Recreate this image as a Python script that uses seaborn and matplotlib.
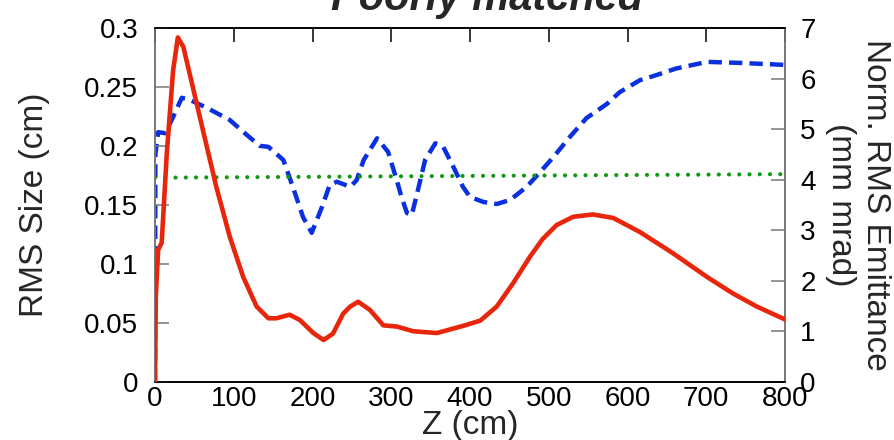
import matplotlib
matplotlib.use("Agg")
import matplotlib.pyplot as plt
import seaborn as sns
import pandas as pd

# --- data -------------------------------------------------------------
z_size = [0, 1, 4, 8.5, 15, 23, 29, 36, 48, 61, 78, 95, 112, 129, 144, 154,
          171, 184, 201, 214, 226, 239, 248, 258, 273, 290, 307, 328, 358,
          391, 413, 434, 455, 476, 492, 510, 531, 556, 582, 616, 658, 701,
          734, 764, 800]
rms_size = [0.0, 0.072, 0.112, 0.118, 0.194, 0.264, 0.292, 0.284, 0.25,
            0.213, 0.165, 0.123, 0.089, 0.064, 0.054, 0.054, 0.057, 0.0525,
            0.0415, 0.0356, 0.041, 0.058, 0.064, 0.068, 0.061, 0.048, 0.047,
            0.043, 0.0415, 0.0475, 0.052, 0.064, 0.084, 0.106, 0.121, 0.133,
            0.140, 0.142, 0.139, 0.127, 0.109, 0.089, 0.075, 0.064, 0.053]

z_emit = [0, 0.5, 4, 13, 23, 34, 44, 66, 95, 117, 133, 144, 163, 175, 188,
          199, 212, 222, 231, 248, 256, 265, 282, 296, 307, 313, 320, 326,
          333, 343, 356, 366, 379, 391, 400, 417, 434, 451, 472, 489, 506,
          527, 548, 574, 590, 616, 633, 662, 701, 743, 800]
emittance = [0.0, 4.5, 4.94, 4.92, 5.24, 5.62, 5.58, 5.42, 5.18, 4.88, 4.67,
             4.65, 4.39, 3.86, 3.26, 2.95, 3.46, 3.90, 3.96, 3.86, 3.99, 4.39,
             4.82, 4.55, 3.99, 3.66, 3.34, 3.30, 3.74, 4.39, 4.72, 4.65, 4.25,
             3.86, 3.66, 3.56, 3.52, 3.60, 3.86, 4.15, 4.45, 4.85, 5.22, 5.50,
             5.73, 5.97, 6.05, 6.20, 6.33, 6.31, 6.27]

z_ref = [0, 800]
emit_ref = [4.04, 4.11]

x_ticks = [0, 100, 200, 300, 400, 500, 600, 700, 800]
y_ticks = [0, 0.05, 0.1, 0.15, 0.2, 0.25, 0.3]
y_tick_labels = ["0", "0.05", "0.1", "0.15", "0.2", "0.25", "0.3"]
y2_ticks = [0, 1, 2, 3, 4, 5, 6, 7]

# --- style --------------------------------------------------------------
sns.set_style("white")
plt.rcParams['font.family'] = ['Liberation Sans', 'DejaVu Sans']

RED = "#e8260c"
BLUE = "#0a30e0"
GREEN = "#109a10"

fig = plt.figure(figsize=(8.95, 4.4), dpi=100)
ax = fig.add_axes([155 / 895, 1 - 382 / 440, 630 / 895, 354 / 440])
ax2 = ax.twinx()

df_size = pd.DataFrame({"z": z_size, "size": rms_size})
df_emit = pd.DataFrame({"z": z_emit, "emit": emittance})
df_ref = pd.DataFrame({"z": z_ref, "emit": emit_ref})

sns.lineplot(data=df_emit, x="z", y="emit", ax=ax2, sort=False, estimator=None,
             color=BLUE, lw=3.2, zorder=2)
ax2.lines[-1].set_dashes((3.0, 1.6))
sns.lineplot(data=df_ref, x="z", y="emit", ax=ax2, sort=False, estimator=None,
             color=GREEN, lw=3.0, zorder=2)
ax2.lines[-1].set_dashes((0.01, 2.45))
ax2.lines[-1].set_dash_capstyle("round")
sns.lineplot(data=df_size, x="z", y="size", ax=ax, sort=False, estimator=None,
             color=RED, lw=3.3, zorder=3)
ax.lines[-1].set_solid_joinstyle("round")

ax.set_zorder(ax2.get_zorder() + 1)
ax.patch.set_visible(False)

ax.set_xlim(0, 800)
ax.set_ylim(0, 0.3)
ax2.set_ylim(0, 7)
ax.set_xticks(x_ticks)
ax.set_xticklabels([str(t) for t in x_ticks])
ax.set_yticks(y_ticks)
ax.set_yticklabels(y_tick_labels)
ax2.set_yticks(y2_ticks)
ax2.set_yticklabels([str(t) for t in y2_ticks])

FS = 20
ax.tick_params(axis="both", direction="in", length=10, width=1.1,
               labelsize=FS, colors="black", top=True)
ax.tick_params(axis="x", pad=3)
ax.tick_params(axis="y", colors="#777777", labelcolor="black", pad=12)
ax2.tick_params(axis="y", direction="in", length=10, width=1.1,
                labelsize=FS, pad=11, colors="#777777", labelcolor="black")

for a in (ax, ax2):
    for s in a.spines.values():
        s.set_visible(True)
        s.set_linewidth(1.2)
    a.spines["left"].set_color("#777777")
    a.spines["right"].set_color("#777777")
    a.spines["top"].set_color("black")
    a.spines["bottom"].set_color("black")
    a.grid(False)

LFS = 24
ax.set_xlabel("Z (cm)", fontsize=LFS)
ax.xaxis.set_label_coords(0.5, -0.079)
ax.xaxis.label.set_va("top")
ax.set_ylabel("RMS Size (cm)", fontsize=LFS)
ax.yaxis.set_label_coords((50 - 155) / 630, 0.5)
ax2.set_ylabel("Norm. RMS Emittance\n(mm mrad)", fontsize=LFS, rotation=-90,
               va="bottom", ha="center", rotation_mode="anchor",
               linespacing=1.15)
ax2.yaxis.set_label_coords((825 - 155) / 630, 0.5)

fig.text(487 / 895, 1 - 10 / 440, "Poorly matched", fontsize=30,
         fontweight="bold", fontstyle="italic", ha="center", va="baseline")

fig.savefig("out.png", dpi=100)
